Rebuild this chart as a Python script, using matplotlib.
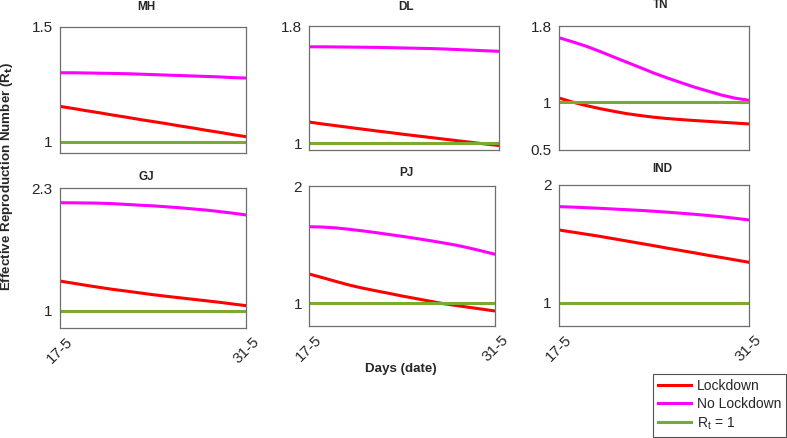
import matplotlib
matplotlib.use("Agg")
import matplotlib.pyplot as plt
from matplotlib.lines import Line2D
import matplotlib.transforms as mtransforms

plt.rcParams['font.family'] = ['Liberation Sans', 'DejaVu Sans']

# ---------------- data ----------------
days = list(range(17, 32))
xtick_days = [17, 31]
xtick_labels = ['17-5', '31-5']

states = ['MH', 'DL', 'TN', 'GJ', 'PJ', 'IND']

lockdown = {
    'MH':  [1.155, 1.146, 1.136, 1.127, 1.117, 1.108, 1.098, 1.089,
            1.080, 1.070, 1.061, 1.051, 1.042, 1.032, 1.023],
    'DL':  [1.146, 1.133, 1.121, 1.109, 1.097, 1.085, 1.074, 1.062,
            1.051, 1.040, 1.029, 1.018, 1.007, 0.996, 0.986],
    'TN':  [1.045, 1.002, 0.965, 0.933, 0.905, 0.879, 0.859, 0.841,
            0.827, 0.816, 0.806, 0.797, 0.788, 0.779, 0.770],
    'GJ':  [1.316, 1.293, 1.270, 1.248, 1.227, 1.209, 1.190, 1.171,
            1.154, 1.138, 1.122, 1.106, 1.090, 1.072, 1.054],
    'PJ':  [1.250, 1.219, 1.187, 1.156, 1.130, 1.107, 1.085, 1.062,
            1.041, 1.020, 0.999, 0.982, 0.966, 0.950, 0.934],
    'IND': [1.618, 1.600, 1.582, 1.564, 1.544, 1.524, 1.504, 1.484,
            1.463, 1.443, 1.423, 1.402, 1.383, 1.363, 1.343],
}
no_lockdown = {
    'MH':  [1.301, 1.301, 1.300, 1.299, 1.298, 1.297, 1.295, 1.293,
            1.291, 1.289, 1.287, 1.285, 1.283, 1.280, 1.278],
    'DL':  [1.660, 1.660, 1.659, 1.658, 1.657, 1.656, 1.654, 1.652,
            1.650, 1.648, 1.645, 1.641, 1.637, 1.633, 1.629],
    'TN':  [1.681, 1.638, 1.592, 1.538, 1.480, 1.423, 1.366, 1.308,
            1.256, 1.207, 1.159, 1.117, 1.075, 1.042, 1.020],
    'GJ':  [2.147, 2.146, 2.144, 2.142, 2.137, 2.129, 2.121, 2.114,
            2.104, 2.094, 2.081, 2.069, 2.053, 2.036, 2.017],
    'PJ':  [1.653, 1.650, 1.643, 1.631, 1.618, 1.603, 1.587, 1.571,
            1.554, 1.536, 1.517, 1.497, 1.473, 1.446, 1.418],
    'IND': [1.816, 1.812, 1.807, 1.802, 1.796, 1.790, 1.784, 1.777,
            1.769, 1.760, 1.751, 1.741, 1.730, 1.717, 1.703],
}
threshold = [1] * 15

yticks = {
    'MH': [1, 1.5], 'DL': [1, 1.8], 'TN': [0.5, 1, 1.8],
    'GJ': [1, 2.3], 'PJ': [1, 2], 'IND': [1, 2],
}
ylims = {
    'MH': (0.952, 1.5), 'DL': (0.955, 1.8), 'TN': (0.5, 1.8),
    'GJ': (0.82, 2.3), 'PJ': (0.806, 2.0), 'IND': (0.80, 2.0),
}

# ---------------- layout (pixels) ----------------
W, H = 787, 438
boxes = {  # left, top, right, bottom
    'MH':  (59.5, 27.0, 246.0, 153.0),
    'DL':  (309.0, 26.3, 498.7, 150.0),
    'TN':  (558.5, 26.3, 748.5, 149.5),
    'GJ':  (59.5, 188.3, 246.0, 327.7),
    'PJ':  (309.0, 186.0, 495.0, 326.0),
    'IND': (558.5, 185.0, 748.5, 326.0),
}
title_pos = {  # centre x, baseline y
    'MH': (146.5, 9.5), 'DL': (406.5, 9.5), 'TN': (661, 8.5),
    'GJ': (146, 179.5), 'PJ': (406.5, 176.2), 'IND': (662.5, 172),
}

RED = '#FF0000'
MAG = '#FF00FF'
GRN = '#77AC30'
SPINE = '#6e6e6e'
TXT = '#262626'
LW = 2.2

fig = plt.figure(figsize=(W / 100, H / 100), dpi=100)

for st in states:
    l, t, r, b = boxes[st]
    ax = fig.add_axes([l / W, 1 - b / H, (r - l) / W, (b - t) / H])
    ax.plot(days, lockdown[st], color=RED, lw=LW)
    ax.plot(days, no_lockdown[st], color=MAG, lw=LW)
    ax.plot(days, threshold, color=GRN, lw=LW)
    ax.set_xlim(days[0], days[-1])
    ax.set_ylim(*ylims[st])
    ax.set_yticks(yticks[st])
    ax.set_yticklabels([('%g' % v) for v in yticks[st]], fontsize=11, color=TXT)
    ax.set_xticks(xtick_days)
    ax.set_xticklabels([])
    if st in ('GJ', 'PJ', 'IND'):
        trans = mtransforms.blended_transform_factory(ax.transData, ax.transAxes)
        off = mtransforms.ScaledTranslation(11 / 100, -12 / 100, fig.dpi_scale_trans)
        for d, lab in zip(xtick_days, xtick_labels):
            ax.text(d, 0, lab, transform=trans + off, rotation=45,
                    ha='right', va='center', rotation_mode='anchor',
                    fontsize=11, color=TXT, clip_on=False)
    ax.tick_params(direction='in', length=3, width=0.6, color=SPINE, pad=5)
    for sp in ax.spines.values():
        sp.set_color(SPINE)
        sp.set_linewidth(0.9)
    tx, ty = title_pos[st]
    fig.text(tx / W, 1 - ty / H, st, ha='center', va='baseline',
             fontsize=8.5, fontweight='bold', color=TXT)

fig.text(7 / W, 1 - 176 / H, 'Effective Reproduction Number (R$_\\mathbf{t}$)',
         rotation=90, ha='center', va='center', fontsize=9.6,
         fontweight='bold', color=TXT)
fig.text(401 / W, 1 - 369 / H, 'Days (date)', ha='center', va='center',
         fontsize=9.6, fontweight='bold', color=TXT)

handles = [Line2D([], [], color=RED, lw=LW),
           Line2D([], [], color=MAG, lw=LW),
           Line2D([], [], color=GRN, lw=LW)]
leg = fig.legend(handles, ['Lockdown', 'No Lockdown', 'R$_\\mathregular{t}$ = 1'],
                 loc='lower right', bbox_to_anchor=(786 / W, 1.5 / H),
                 bbox_transform=fig.transFigure, fontsize=10,
                 frameon=True, fancybox=False, edgecolor='#262626',
                 handlelength=2.4, handletextpad=0.4, borderpad=0.35,
                 labelspacing=0.3, borderaxespad=0)
leg.get_frame().set_linewidth(0.8)
for t in leg.get_texts():
    t.set_color(TXT)

fig.savefig('out.png', dpi=100)
